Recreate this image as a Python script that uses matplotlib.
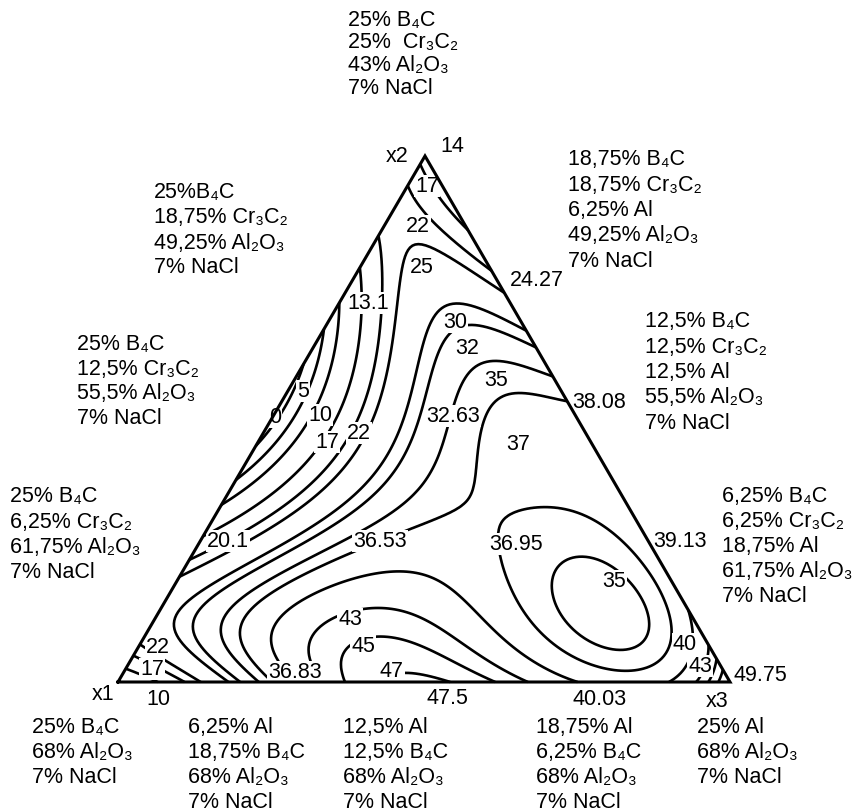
import numpy as np
import matplotlib
matplotlib.use("Agg")
import matplotlib.pyplot as plt
import matplotlib.tri as mtri

plt.rcParams['font.family'] = ['Liberation Sans', 'DejaVu Sans']

# ---------------- data ----------------
# simplex-lattice {3,4} design points (fractions of x1, x2, x3) and measured response
x1_frac = [1.0, 0.0, 0.0, 0.75, 0.50, 0.25, 0.75, 0.50, 0.25, 0.0, 0.0, 0.0, 0.50, 0.25, 0.25]
x2_frac = [0.0, 1.0, 0.0, 0.25, 0.50, 0.75, 0.0, 0.0, 0.0, 0.75, 0.50, 0.25, 0.25, 0.50, 0.25]
x3_frac = [0.0, 0.0, 1.0, 0.0, 0.0, 0.0, 0.25, 0.50, 0.75, 0.25, 0.50, 0.75, 0.25, 0.25, 0.50]
response = [10, 14, 49.75, 20.1, -2.0, 13.1, 36.83, 47.5, 40.03, 24.27, 38.08, 39.13, 36.53, 32.63, 36.95]
point_labels = ["10", "14", "49.75", "20.1", "", "13.1", "36.83", "47.5", "40.03",
                "24.27", "38.08", "39.13", "36.53", "32.63", "36.95"]
contour_levels = [0, 5, 10, 17, 22, 25, 30, 32, 35, 37, 40, 43, 45, 47]
# contour levels that carry a label (one entry per label shown)
labelled_levels = [0, 5, 10, 17, 22, 17, 22, 25, 30, 32, 35, 37, 35, 40, 43, 43, 45, 47, 22, 17]

composition_blocks = [
    ["25% B\u2084C", "25%  Cr\u2083C\u2082", "43% Al\u2082O\u2083", "7% NaCl"],
    ["25%B\u2084C", "18,75% Cr\u2083C\u2082", "49,25% Al\u2082O\u2083", "7% NaCl"],
    ["25% B\u2084C", "12,5% Cr\u2083C\u2082", "55,5% Al\u2082O\u2083", "7% NaCl"],
    ["25% B\u2084C", "6,25% Cr\u2083C\u2082", "61,75% Al\u2082O\u2083", "7% NaCl"],
    ["18,75% B\u2084C", "18,75% Cr\u2083C\u2082", "6,25% Al", "49,25% Al\u2082O\u2083", "7% NaCl"],
    ["12,5% B\u2084C", "12,5% Cr\u2083C\u2082", "12,5% Al", "55,5% Al\u2082O\u2083", "7% NaCl"],
    ["6,25% B\u2084C", "6,25% Cr\u2083C\u2082", "18,75% Al", "61,75% Al\u2082O\u2083", "7% NaCl"],
    ["25% B\u2084C", "68% Al\u2082O\u2083", "7% NaCl"],
    ["6,25% Al", "18,75% B\u2084C", "68% Al\u2082O\u2083", "7% NaCl"],
    ["12,5% Al", "12,5% B\u2084C", "68% Al\u2082O\u2083", "7% NaCl"],
    ["18,75% Al", "6,25% B\u2084C", "68% Al\u2082O\u2083", "7% NaCl"],
    ["25% Al", "68% Al\u2082O\u2083", "7% NaCl"],
]
vertex_names = ["x1", "x2", "x3"]

# ---------------- layout (pixels) ----------------
W, H = 857, 812
V1, V2, V3 = (118.0, 683.0), (425.0, 157.0), (730.0, 683.0)   # vertex positions
FS = 15.5
LW = 1.9

block_pos = [(348, 20, 22.7), (154, 193, 25), (77, 345, 24.5), (10, 497, 25.3),
             (568, 160, 25.3), (645, 322, 25.3), (722, 497, 25),
             (32, 728, 25), (188, 728, 25), (343, 728, 25), (536, 728, 25), (697, 728, 25)]
point_label_pos = [(158, 700), (452, 146), (760, 676), (228, 542), None, (368, 304),
                   (295, 673), (447, 699), (600, 700), (537, 281), (599, 403), (680, 542),
                   (380, 542), (453, 417), (516, 545)]
vertex_name_pos = [(103, 695), (397, 157), (717, 702)]
contour_label_pos = [(275, 418), (303, 392), (320, 416), (327, 443), (359, 434),
                     (427, 187), (418, 227), (422, 268), (455, 323), (467, 349),
                     (496, 381), (518, 445), (614, 582), (685, 645), (700, 667),
                     (350, 620), (363, 647), (392, 672), (158, 648), (152, 670)]


def to_xy(a1, a2, a3):
    a1, a2, a3 = map(np.asarray, (a1, a2, a3))
    x = a1 * V1[0] + a2 * V2[0] + a3 * V3[0]
    y = a1 * V1[1] + a2 * V2[1] + a3 * V3[1]
    return x, y


def scheffe_quartic(a, b, c):
    a, b, c = map(np.asarray, (a, b, c))
    return np.stack([a, b, c, a * b, a * c, b * c,
                     a * b * (a - b), a * c * (a - c), b * c * (b - c),
                     a * b * (a - b) ** 2, a * c * (a - c) ** 2, b * c * (b - c) ** 2,
                     a * a * b * c, a * b * b * c, a * b * c * c], axis=-1)


# fit the Scheffe quartic mixture model through the design points
A = scheffe_quartic(x1_frac, x2_frac, x3_frac)
coef = np.linalg.lstsq(A, np.asarray(response, float), rcond=None)[0]

n = 180
ii, jj = np.meshgrid(np.arange(n + 1), np.arange(n + 1))
mask = ii + jj <= n
g1 = ii[mask] / n
g2 = jj[mask] / n
g3 = np.clip(1 - g1 - g2, 0, 1)
gx, gy = to_xy(g1, g2, g3)
gz = scheffe_quartic(g1, g2, g3) @ coef
tri = mtri.Triangulation(gx, gy)

fig = plt.figure(figsize=(W / 100, H / 100), dpi=100)
ax = fig.add_axes([0, 0, 1, 1])
ax.set_xlim(0, W)
ax.set_ylim(H, 0)
ax.axis('off')

ax.tricontour(tri, gz, levels=contour_levels, colors='black', linewidths=LW, zorder=2)

box = dict(facecolor='white', edgecolor='none', pad=0.6)
for lev, (x, y) in zip(labelled_levels, contour_label_pos):
    ax.text(x, y, f"{lev:g}", fontsize=FS, ha='center', va='center', bbox=box, zorder=4)

# triangle frame
tx = [V1[0], V2[0], V3[0], V1[0]]
ty = [V1[1], V2[1], V3[1], V1[1]]
ax.plot(tx, ty, color='black', lw=2.2, solid_joinstyle='miter', zorder=6)

# design point values
for lab, pos in zip(point_labels, point_label_pos):
    if lab and pos is not None:
        ax.text(pos[0], pos[1], lab, fontsize=FS, ha='center', va='center', bbox=box, zorder=5)

for name, (x, y) in zip(vertex_names, vertex_name_pos):
    ax.text(x, y, name, fontsize=FS, ha='center', va='center', zorder=5)

for lines, (x, y0, dy) in zip(composition_blocks, block_pos):
    for i, s in enumerate(lines):
        ax.text(x, y0 + i * dy, s, fontsize=FS, ha='left', va='center')

fig.savefig('out.png', dpi=100)
